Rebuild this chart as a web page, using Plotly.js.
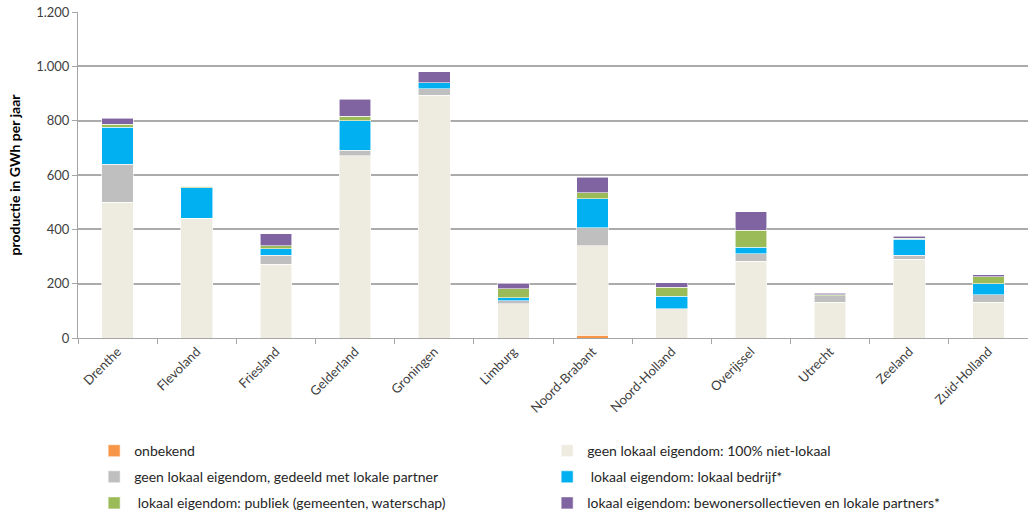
<!DOCTYPE html>
<html>
<head>
<meta charset="utf-8">
<script src="https://cdn.plot.ly/plotly-3.0.1.min.js"></script>
<style>html,body{margin:0;padding:0;background:#fff;}#chart{width:1028px;height:517px;}</style>
</head>
<body>
<div id="chart"></div>
<script>
const provinces = ["Drenthe","Flevoland","Friesland","Gelderland","Groningen","Limburg","Noord-Brabant","Noord-Holland","Overijssel","Utrecht","Zeeland","Zuid-Holland"];
const onbekend  = [0, 0, 0, 0, 0, 0, 10, 0, 0, 0, 0, 0];
const geenLokaal = [500, 440, 272, 671, 894, 126, 330, 108, 283, 132, 289, 132];
const gedeeld   = [140, 0, 33, 21, 23, 11, 65, 0, 28, 23, 16, 27];
const bedrijf   = [136, 113, 24, 108, 23, 12, 108, 46, 23, 0, 58, 40];
const publiek   = [10, 5, 11, 16, 0, 33, 22, 33, 62, 4, 5, 27];
const bewoners  = [23, 0, 44, 63, 40, 19, 57, 16, 68, 6, 6, 7];
const yTicks = [0, 200, 400, 600, 800, 1000, 1200];

const names = ["onbekend", "geen lokaal eigendom: 100% niet-lokaal", "geen lokaal eigendom, gedeeld met lokale partner", " lokaal eigendom: lokaal bedrijf*", " lokaal eigendom: publiek (gemeenten, waterschap)", "lokaal eigendom: bewonersollectieven en lokale partners*"];
const series = [onbekend, geenLokaal, gedeeld, bedrijf, publiek, bewoners];
const colors = ["#F79646", "#EEECE1", "#BFBFBF", "#00B0F0", "#9BBB59", "#8064A2"];
const legendIds = ["legend", "legend", "legend2", "legend2", "legend3", "legend3"];

const traces = series.map((vals, i) => ({
  type: "bar",
  name: names[i],
  x: provinces,
  y: vals,
  marker: {color: colors[i], line: {color: "rgba(255,255,255,0.7)", width: 0.8}},
  legend: legendIds[i],
  hoverinfo: "x+y+name"
}));

const font = {family: "Lato, 'Open Sans', sans-serif", size: 13, color: "#404040"};
function leg(yv) {
  return {orientation: "h", x: 0.017, xanchor: "left", y: yv, yanchor: "middle",
    entrywidth: 408, entrywidthmode: "pixels", itemwidth: 30,
    font: {family: font.family, size: 14, color: "#262626"}, bgcolor: "rgba(0,0,0,0)", traceorder: "normal"};
}

const layout = {
  width: 1028, height: 517,
  margin: {l: 78, r: 0, t: 12, b: 179, autoexpand: false},
  barmode: "stack",
  bargap: 0.6,
  separators: ",.",
  paper_bgcolor: "#fff", plot_bgcolor: "#fff",
  font: font,
  showlegend: true,
  legend: leg(-0.347),
  legend2: leg(-0.427),
  legend3: leg(-0.507),
  xaxis: {
    tickangle: -45, showline: true, linecolor: "#a6a6a6", linewidth: 1,
    ticks: "outside", tickson: "boundaries", ticklen: 5, tickcolor: "#a6a6a6",
    tickfont: {family: font.family, size: 13, color: "#404040"}, fixedrange: true, automargin: false
  },
  yaxis: {
    range: [0, 1200], tickvals: yTicks, tickformat: ",d",
    showgrid: true, gridcolor: "#ababab", gridwidth: 2,
    showline: true, linecolor: "#a6a6a6", linewidth: 1,
    ticks: "outside", ticklen: 5, tickcolor: "#a6a6a6",
    tickfont: {family: font.family, size: 13, color: "#404040"},
    zeroline: false, automargin: false,
    title: {text: "<b>productie in GWh per jaar</b>", font: {family: font.family, size: 14, color: "#000"}, standoff: 12}
  }
};

Plotly.newPlot("chart", traces, layout, {displayModeBar: false, staticPlot: true});
</script>
</body>
</html>
